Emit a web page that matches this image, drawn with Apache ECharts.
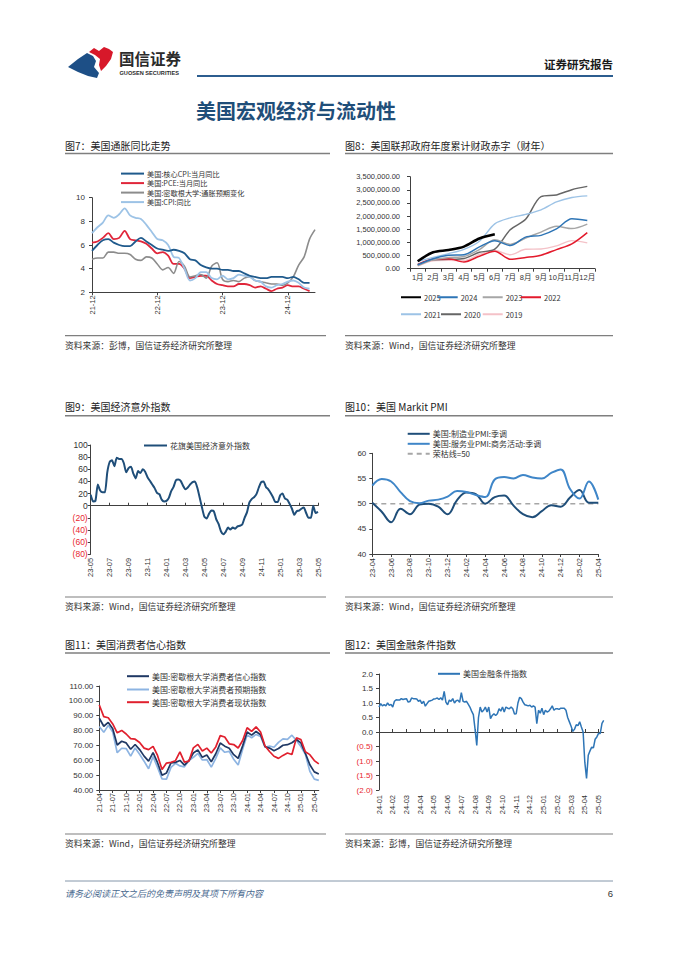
<!DOCTYPE html>
<html><head><meta charset="utf-8">
<script src="https://cdn.jsdelivr.net/npm/echarts@6/dist/echarts.min.js"></script>
<style>html,body{margin:0;padding:0;background:#fff;}#c{width:677px;height:957px;}</style>
</head><body><div id="c"></div>
<script>
// ---------- Chart 7: inflation ----------
const months7 = ['21-12','22-01','22-02','22-03','22-04','22-05','22-06','22-07','22-08','22-09','22-10','22-11','22-12','23-01','23-02','23-03','23-04','23-05','23-06','23-07','23-08','23-09','23-10','23-11','23-12','24-01','24-02','24-03','24-04','24-05','24-06','24-07','24-08','24-09','24-10','24-11','24-12','25-01','25-02','25-03','25-04','25-05'];
const coreCPI = [5.5,6.0,6.4,6.5,6.2,6.0,5.9,5.9,6.3,6.6,6.3,6.0,5.7,5.6,5.5,5.6,5.5,5.3,4.8,4.7,4.3,4.1,4.0,4.0,3.9,3.9,3.8,3.8,3.6,3.4,3.3,3.2,3.2,3.3,3.3,3.3,3.2,3.3,3.1,2.8,2.8,null];
const pce = [6.2,6.3,6.6,7.0,6.5,6.6,7.2,6.5,6.4,6.3,6.1,5.7,5.3,5.4,5.1,4.4,4.4,4.0,3.2,3.3,3.4,3.4,3.0,2.7,2.6,2.5,2.5,2.7,2.7,2.6,2.4,2.5,2.3,2.1,2.3,2.4,2.6,2.5,2.5,2.3,2.1,null];
const michInfl = [4.8,4.9,4.9,5.4,5.4,5.3,5.3,5.2,4.8,4.7,5.0,4.9,4.4,3.9,4.1,3.6,4.6,4.2,3.3,3.4,3.5,3.2,4.2,4.5,3.1,2.9,3.0,2.9,3.2,3.3,3.0,2.9,2.8,2.7,2.7,2.6,2.8,3.3,4.3,5.0,6.5,7.3];
const cpi = [7.0,7.5,7.9,8.5,8.3,8.6,9.1,8.5,8.3,8.2,7.7,7.1,6.5,6.4,6.0,5.0,4.9,4.0,3.0,3.2,3.7,3.7,3.2,3.1,3.4,3.1,3.2,3.5,3.4,3.3,3.0,2.9,2.5,2.4,2.6,2.7,2.9,3.0,2.8,2.4,2.3,null];
const names7 = ['美国:核心CPI:当月同比','美国:PCE:当月同比','美国:密歇根大学:通胀预期变化','美国:CPI:同比'];

// ---------- Chart 8: cumulative deficit ----------
const fyMonths = ['1月','2月','3月','4月','5月','6月','7月','8月','9月','10月','11月','12月'];
const fy2025 = [284000,624000,711000,840000,1147000,1307000];
const fy2024 = [150000,381000,510000,532000,828000,1065000,880000,1202000,1268000,1512000,1897000,1833000];
const fy2023 = [120000,337000,422000,461000,723000,1101000,925000,1165000,1393000,1614000,1525000,1695000];
const fy2022 = [165000,357000,378000,259000,475000,668000,360000,426000,515000,726000,946000,1375000];
const fy2021 = [284000,429000,573000,736000,1047000,1706000,1932000,2064000,2238000,2540000,2711000,2772000];
const fy2020 = [134000,343000,357000,389000,624000,743000,1481000,1880000,2744000,2807000,3007000,3132000];
const fy2019 = [100000,305000,319000,310000,544000,691000,531000,739000,747000,867000,1067000,984000];

// ---------- Chart 9: Citi surprise (quarter-month samples) ----------
const citi = [18,7,8,35,25,22,22,55,72,75,65,79,77,77,70,55,62,64,53,45,57,54,60,56,47,41,35,29,21,19,10,7,8,13,24,31,42,43,41,33,27,30,35,39,40,30,14,-3,-18,-21,-13,-8,-9,-22,-30,-42,-47,-43,-36,-39,-36,-38,-34,-33,-31,-20,-11,5,11,14,19,30,39,40,31,27,21,14,6,6,17,20,12,10,3,-5,-15,-9,-8,-5,-3,-12,-20,-20,0,-12,-10];
const citiDays = ['01','08','16','23'];

// ---------- Chart 10: PMI ----------
const months10 = ['23-04','23-05','23-06','23-07','23-08','23-09','23-10','23-11','23-12','24-01','24-02','24-03','24-04','24-05','24-06','24-07','24-08','24-09','24-10','24-11','24-12','25-01','25-02','25-03','25-04'];
const mfgPMI = [50.2,48.4,46.3,49.0,47.9,49.8,50.0,49.4,47.9,50.7,52.2,51.9,50.0,51.3,51.6,49.6,47.9,47.3,48.5,49.7,49.4,51.2,52.7,50.2,50.2];
const svcPMI = [53.6,54.9,54.4,52.3,50.5,50.1,50.6,50.8,51.4,52.5,52.3,51.7,51.3,54.8,55.3,55.0,55.7,55.2,55.0,56.1,56.8,52.9,51.0,54.4,50.8];
const line50 = [50,50,50,50,50,50,50,50,50,50,50,50,50,50,50,50,50,50,50,50,50,50,50,50,50];

// ---------- Chart 11: Michigan ----------
const months11 = ['21-04','21-05','21-06','21-07','21-08','21-09','21-10','21-11','21-12','22-01','22-02','22-03','22-04','22-05','22-06','22-07','22-08','22-09','22-10','22-11','22-12','23-01','23-02','23-03','23-04','23-05','23-06','23-07','23-08','23-09','23-10','23-11','23-12','24-01','24-02','24-03','24-04','24-05','24-06','24-07','24-08','24-09','24-10','24-11','24-12','25-01','25-02','25-03','25-04','25-05'];
const sentiment = [88.3,82.9,85.5,81.2,70.3,72.8,71.7,67.4,70.6,67.2,62.8,59.4,65.2,58.4,50.0,51.5,58.2,58.6,59.9,56.8,59.7,64.9,67.0,62.0,63.5,59.0,64.4,71.6,69.5,68.1,63.8,61.3,69.7,79.0,76.9,79.4,77.2,69.1,68.2,66.4,67.9,70.1,70.5,71.8,74.0,71.7,64.7,57.0,52.2,50.8];
const expectations = [82.7,78.8,83.5,79.0,65.1,68.1,67.9,62.8,68.3,64.1,59.4,54.3,62.5,55.2,47.5,47.3,55.2,58.0,56.2,55.6,59.9,62.0,64.7,60.2,60.5,55.4,61.3,68.3,65.4,66.0,60.7,56.8,67.4,77.1,75.2,77.4,76.0,68.8,69.6,68.8,72.1,74.4,74.1,76.9,73.3,69.3,64.0,52.6,47.3,46.5];
const current = [97.2,89.4,88.6,84.5,78.5,80.1,77.7,74.6,74.2,72.0,68.2,67.2,69.4,63.3,53.8,58.1,58.6,59.7,65.6,58.8,59.4,68.4,70.7,66.3,68.2,64.9,69.0,76.6,75.7,71.1,70.6,68.3,73.3,81.9,79.4,82.5,79.0,69.6,65.9,62.7,61.3,63.3,64.9,63.9,75.1,74.0,65.7,63.8,59.8,57.6];
const names11 = ['美国:密歇根大学消费者信心指数','美国:密歇根大学消费者预期指数','美国:密歇根大学消费者现状指数'];

// ---------- Chart 12: financial conditions (8 samples / month) ----------
const fci = [0.86,0.98,0.9,0.94,0.9,1.0,0.92,0.95,0.86,1.06,1.11,1.1,1.1,1.15,1.12,1.14,1.15,1.03,1.05,1.17,1.15,1.15,1.14,1.06,1.1,0.98,1.06,0.89,0.98,1.06,1.08,1.1,1.14,1.15,1.17,1.12,1.18,1.1,1.4,1.03,0.94,1.1,1.06,1.15,1.0,1.08,1.1,1.02,1.36,1.06,1.03,1.06,0.96,0.86,0.72,0.6,0.1,-0.46,0.5,0.86,0.69,0.75,0.86,0.69,0.86,0.46,0.57,0.63,0.57,0.63,0.8,0.72,0.86,0.69,0.86,0.82,0.8,0.86,0.8,0.62,0.63,1.0,1.2,1.15,1.03,0.94,0.92,0.9,0.92,0.86,0.9,0.86,0.29,0.75,0.65,0.82,0.6,0.75,0.69,0.72,0.8,0.9,0.75,0.8,0.8,0.78,0.82,0.82,0.82,0.75,0.5,0.35,0.2,0.02,0.1,0.25,0.22,0.35,0.17,0.0,-1.05,-1.6,-0.8,-0.65,-0.52,-0.55,-0.25,-0.17,-0.05,-0.05,0.3,0.4];
const fciDays = ['01','05','09','13','17','21','25','28'];

// ---------- build date categories ----------
function buildDates(y0, m0, days, count){
  const out = []; let y = y0, m = m0;
  while (out.length < count){
    for (const d of days){ if (out.length < count) out.push(y + '-' + String(m).padStart(2,'0') + '-' + d); }
    m++; if (m > 12){ m = 1; y++; }
  }
  return out;
}
const citiDates = buildDates(2023, 5, citiDays, citi.length);
const fciDates = buildDates(2024, 1, fciDays, fci.length);

const FONT = "'Liberation Sans','Noto Sans CJK SC',sans-serif";
const CJK = "'Noto Sans CJK SC','Liberation Sans',sans-serif";
const AX = '#404040';

function fmtMoney(v){ return String(Math.round(v)).replace(/\B(?=(\d{3})+(?!\d))/g, ',') + '.00'; }
function paren(v, dec){ const s = Math.abs(v).toFixed(dec); return v < 0 ? '(' + s + ')' : s; }

const grids = [
  {left:92, top:197.7, width:223, height:94.6},
  {left:410, top:176.7, width:185, height:92},
  {left:90.7, top:445, width:227.3, height:109.3},
  {left:372.3, top:453.3, width:226, height:100.7},
  {left:99.3, top:686, width:219.5, height:104},
  {left:379, top:674, width:224.7, height:116}
].map(g => Object.assign(g, {containLabel:false, outerBoundsMode:'none'}));

function yAx(gi, min, max, interval, fmt, margin, colorFn, fs){
  return {type:'value', gridIndex:gi, min, max, interval, splitLine:{show:false},
    axisLine:{show:true, onZero:false, lineStyle:{color:AX, width:1}},
    axisTick:{show:true, length:3, lineStyle:{color:AX}},
    axisLabel:{fontSize:fs||8, color:colorFn||'#333', formatter:fmt, margin:margin, fontFamily:FONT}};
}
function xAx(gi, data, opts){
  const base = {type:'category', gridIndex:gi, data, boundaryGap:false, position:'bottom',
    axisLine:{show:true, onZero:false, lineStyle:{color:AX, width:1}},
    axisTick:{show:true, length:3, lineStyle:{color:AX}},
    axisLabel:{fontSize:7.5, color:'#333', rotate:90, margin:3, fontFamily:FONT, hideOverlap:false},
    splitLine:{show:false}};
  if (opts){
    for (const k in opts){
      if (typeof opts[k] === 'object' && !Array.isArray(opts[k]) && base[k]) base[k] = Object.assign({}, base[k], opts[k]);
      else base[k] = opts[k];
    }
  }
  return base;
}
const every = n => (i => i % n === 0);

const xAxis = [
  xAx(0, months7, {axisLabel:{interval:11}, axisTick:{interval:11}}),
  xAx(1, fyMonths, {boundaryGap:true, axisLabel:{rotate:0, margin:5, fontSize:7.5, interval:0}, axisTick:{length:3}}),
  xAx(2, citiDates, {axisLine:{show:false}, axisTick:{show:false}, axisLabel:{interval:every(8), margin:3.5, formatter:v => v.slice(2,7)}}),
  xAx(3, months10, {axisLabel:{interval:1, margin:4}, axisTick:{interval:1}}),
  xAx(4, months11, {axisLabel:{interval:2, margin:3}, axisTick:{interval:2}}),
  xAx(5, fciDates, {axisLine:{show:false}, axisTick:{show:false}, axisLabel:{interval:every(8), margin:5, formatter:v => v.slice(2,7)}}),
  // zero lines (with upward ticks) for charts 9 and 12
  xAx(2, citiDates, {position:'top', axisLine:{onZero:true}, axisTick:{inside:false, interval:every(8), length:3}, axisLabel:{show:false}}),
  xAx(5, fciDates, {position:'top', axisLine:{onZero:true}, axisTick:{inside:false, interval:every(8), length:3}, axisLabel:{show:false}})
];
const red = v => (v < 0 ? '#e8262f' : '#333');
const yAxis = [
  yAx(0, 2, 10, 2, v => String(v), 7),
  yAx(1, 0, 3500000, 500000, fmtMoney, 10, null, 7.5),
  yAx(2, -80, 100, 20, v => paren(v, 0), 3, red, 8.5),
  yAx(3, 40, 60, 5, v => String(v), 6),
  yAx(4, 40, 110, 10, v => v.toFixed(2), 6),
  yAx(5, -2, 2, 0.5, v => paren(v, 1), 6, red, 8)
];

function ln(name, gi, data, color, width, extra){
  return Object.assign({type:'line', name, xAxisIndex:gi, yAxisIndex:gi, data, symbol:'none', showSymbol:false,
    lineStyle:{color, width}, itemStyle:{color}, connectNulls:false}, extra||{});
}
const series = [
  ln(names7[1], 0, pce, '#e0263a', 1.8, {smooth:0.3}),
  ln(names7[2], 0, michInfl, '#8c8c8c', 1.6, {smooth:0.3}),
  ln(names7[3], 0, cpi, '#9dc3e6', 1.8, {smooth:0.3}),
  ln(names7[0], 0, coreCPI, '#1f5a8c', 1.8, {smooth:0.3}),

  ln('2019', 1, fy2019, '#f4c2c8', 1.4, {smooth:0.3}),
  ln('2020', 1, fy2020, '#666666', 1.5, {smooth:0.3}),
  ln('2021', 1, fy2021, '#9dc3e6', 1.4, {smooth:0.3}),
  ln('2022', 1, fy2022, '#e31a2c', 1.5, {smooth:0.3}),
  ln('2023', 1, fy2023, '#a6a6a6', 1.5, {smooth:0.3}),
  ln('2024', 1, fy2024, '#2e75b6', 1.5, {smooth:0.3}),
  ln('2025', 1, fy2025, '#000000', 2.6, {smooth:0.3}),

  ln('花旗美国经济意外指数', 2, citi, '#1f4e79', 2, {smooth:0.2}),

  ln('荣枯线=50', 3, line50, '#a6a6a6', 1.5, {lineStyle:{color:'#a6a6a6', width:1.5, type:[5,4]}}),
  ln('美国:制造业PMI:季调', 3, mfgPMI, '#1f4e79', 2, {smooth:0.4}),
  ln('美国:服务业PMI:商务活动:季调', 3, svcPMI, '#3f86c8', 2, {smooth:0.4}),

  ln(names11[1], 4, expectations, '#8db4e2', 1.7),
  ln(names11[0], 4, sentiment, '#1f3864', 1.7),
  ln(names11[2], 4, current, '#e0202e', 1.7),

  ln('美国金融条件指数', 5, fci, '#2e75b6', 1.5)
];

function leg(name, left, cy, w, fs){
  const h = 7;
  return {data:[name], left, top:cy - h/2, orient:'horizontal', itemWidth:w, itemHeight:h, itemGap:0, padding:0,
    selectedMode:false, itemStyle:{opacity:0},
    textStyle:{fontSize:fs||8, lineHeight:fs||8, color:'#333', fontFamily:CJK, padding:[0,0,0,-2]}};
}
const legend = [
  leg(names7[0], 120, 173.5, 23, 7.2), leg(names7[1], 120, 183, 23, 7.2), leg(names7[2], 120, 192.5, 23, 7.2), leg(names7[3], 120, 202, 23, 7.2),
  leg('2025', 400, 297, 20, 7.5), leg('2024', 436.7, 297, 20, 7.5), leg('2023', 481.7, 297, 20, 7.5), leg('2022', 520, 297, 20, 7.5),
  leg('2021', 400, 314, 20, 7.5), leg('2020', 440, 314, 20, 7.5), leg('2019', 481.7, 314, 20, 7.5),
  leg('花旗美国经济意外指数', 143, 445, 23),
  leg('美国:制造业PMI:季调', 406.7, 433.3, 22), leg('美国:服务业PMI:商务活动:季调', 406.7, 443.3, 22), leg('荣枯线=50', 406.7, 453.3, 22),
  leg(names11[0], 126, 675.7, 22), leg(names11[1], 126, 689, 22), leg(names11[2], 126, 701.7, 22),
  leg('美国金融条件指数', 437, 673.3, 22)
];

function txt(x, y, t, size, st){
  return {type:'text', x, y, silent:true,
    style:Object.assign({text:t, fontSize:size, fontFamily:CJK, fill:'#333', textVerticalAlign:'middle', textAlign:'left'}, st||{})};
}
function hl(x1, x2, y, color, w){
  return {type:'line', silent:true, shape:{x1, y1:y, x2, y2:y}, style:{stroke:color, lineWidth:w}};
}
const LX = 65, LX2 = 330, RX = 345, RX2 = 613;
const rows = [
  {t:145, l:153.5, sl:335.7, st:345.7},
  {t:406.7, l:415.7, sl:597, st:606},
  {t:644, l:653, sl:834, st:843}
];
const titles = [['图7：美国通胀同比走势','图8：美国联邦政府年度累计财政赤字（财年）'],
                ['图9：美国经济意外指数','图10：美国 Markit PMI'],
                ['图11：美国消费者信心指数','图12：美国金融条件指数']];
const sources = [['资料来源：彭博，国信证券经济研究所整理','资料来源：Wind，国信证券经济研究所整理'],
                 ['资料来源：Wind，国信证券经济研究所整理','资料来源：Wind，国信证券经济研究所整理'],
                 ['资料来源：Wind，国信证券经济研究所整理','资料来源：彭博，国信证券经济研究所整理']];
const graphic = [];
rows.forEach((r, i) => {
  graphic.push(txt(LX, r.t, titles[i][0], 10, {fill:'#222'}));
  graphic.push(txt(RX, r.t, titles[i][1], 10, {fill:'#222'}));
  graphic.push(hl(LX, LX2, r.l, '#7f7f7f', 1.5));
  graphic.push(hl(RX, RX2, r.l, '#7f7f7f', 1.5));
  graphic.push(hl(LX, LX2 - 4, r.sl, '#7f7f7f', 1.2));
  graphic.push(hl(RX, RX2, r.sl, '#7f7f7f', 1.2));
  graphic.push(txt(LX, r.st, sources[i][0], 8.8, {fill:'#333'}));
  graphic.push(txt(RX, r.st, sources[i][1], 8.8, {fill:'#333'}));
});
// header
graphic.push({type:'polygon', silent:true, shape:{points:[[89,52],[94,48],[99,51],[104,47],[109,49],[113,52],[111,59],[106,66],[101,71],[99,65],[100,59],[95,55]]}, style:{fill:'#d7182a'}});
graphic.push({type:'polygon', silent:true, shape:{points:[[68,67],[78,59],[87,53],[93,56],[96,61],[94,67],[99,73],[97,78],[88,76],[78,72]]}, style:{fill:'#1d4f86'}});
graphic.push(txt(119, 58, '国信证券', 15.5, {fill:'#2b2b2b', fontWeight:'bold'}));
graphic.push(txt(119.5, 72.5, 'GUOSEN SECURITIES', 5.6, {fill:'#2b2b2b', fontWeight:'bold', fontFamily:FONT}));
graphic.push(txt(613, 64, '证券研究报告', 11.5, {fill:'#1a1a1a', fontWeight:'bold', textAlign:'right'}));
graphic.push(hl(197, 613, 76, '#2c5d8f', 2));
graphic.push(txt(196, 110, '美国宏观经济与流动性', 20, {fill:'#1f4e79', fontWeight:'bold'}));
// footer
graphic.push(hl(65, 613, 881, '#8496aa', 1));
graphic.push(txt(65, 893, '请务必阅读正文之后的免责声明及其项下所有内容', 9, {fill:'#4a6a8f', fontStyle:'italic'}));
graphic.push(txt(613, 893, '6', 9.5, {fill:'#333', textAlign:'right', fontFamily:FONT}));

const chart = echarts.init(document.getElementById('c'), null, {renderer:'svg', width:677, height:957});
chart.setOption({
  animation:false,
  backgroundColor:'#fff',
  textStyle:{fontFamily:FONT},
  grid:grids, xAxis, yAxis, series, legend, graphic
});
</script></body></html>
